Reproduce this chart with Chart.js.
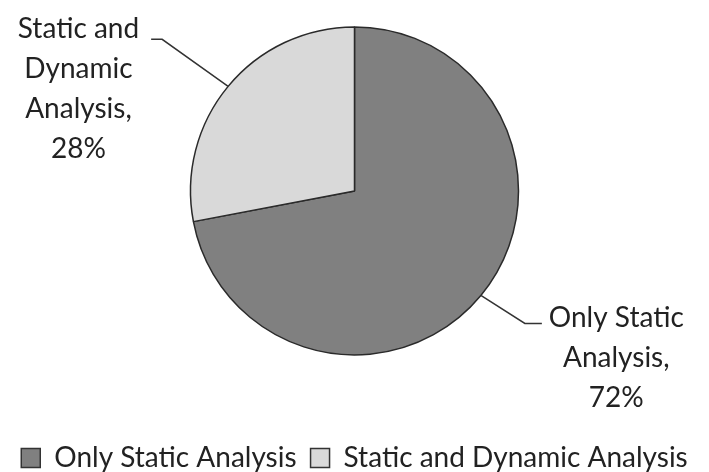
<!DOCTYPE html>
<html>
<head>
<meta charset="utf-8">
<script src="https://cdn.jsdelivr.net/npm/chart.js@4"></script>
<style>
  html, body { margin: 0; padding: 0; background: #fff; }
  #wrap { width: 709px; height: 472px; }
</style>
</head>
<body>
<div id="wrap"><canvas id="pie_chart"></canvas></div>
<script>
var labels = ['Only Static Analysis', 'Static and Dynamic Analysis'];
var shares = [72, 28];
var sliceLabels = [['Only Static', 'Analysis,', '72%'], ['Static and', 'Dynamic', 'Analysis,', '28%']];
var colors = ['#808080', '#d9d9d9'];

// leader line elbows, relative to slice edge point
var elbows = [{dx: 44, dy: 28, run: 17, gap: 7, lift: 5}, {dx: -66, dy: -47, run: -11, gap: 12, lift: 10}];

var labelPlugin = {
    id: 'sliceLabels',
    afterDatasetsDraw(chart) {
        var ctx = chart.ctx;
        var meta = chart.getDatasetMeta(0);
        ctx.save();
        ctx.font = '28px Lato';
        ctx.fillStyle = '#222';
        ctx.strokeStyle = '#333';
        ctx.lineWidth = 1.5;
        ctx.textAlign = 'center';
        ctx.textBaseline = 'middle';
        meta.data.forEach(function (arc, i) {
            var p = arc.getProps(['x', 'y', 'startAngle', 'endAngle', 'outerRadius'], true);
            var mid = (p.startAngle + p.endAngle) / 2;
            var ex = p.x + Math.cos(mid) * p.outerRadius;
            var ey = p.y + Math.sin(mid) * p.outerRadius;
            var e = elbows[i];
            var bx = ex + e.dx, by = ey + e.dy;
            var tx = bx + e.run;
            ctx.beginPath();
            ctx.moveTo(ex, ey);
            ctx.lineTo(bx, by);
            ctx.lineTo(tx, by);
            ctx.stroke();
            var lines = sliceLabels[i];
            var w = Math.max.apply(null, lines.map(function (l) { return ctx.measureText(l).width; }));
            var cx = e.run > 0 ? tx + e.gap + w / 2 : tx - e.gap - w / 2;
            lines.forEach(function (l, j) {
                ctx.fillText(l, cx, by - e.lift + j * 40);
            });
        });
        ctx.restore();
    }
};

var pie_chart = new Chart(document.getElementById('pie_chart'), {
    type: 'pie',
    data: {
        labels: labels,
        datasets: [
            {
                data: shares,
                backgroundColor: colors,
                borderColor: '#2a2a2a',
                borderWidth: 1.5,
                radius: 164,
                clip: false
            }
        ]
    },
    options: {
        responsive: true,
        maintainAspectRatio: false,
        animation: false,
        layout: {
            padding: {top: 0, bottom: -10}
        },
        plugins: {
            legend: {
                position: 'bottom',
                // empty title only used as a spacer between pie and legend
                title: {display: true, text: '', font: {size: 1}, padding: {top: 0, bottom: 47}},
                labels: {
                    font: {family: 'Lato', size: 28},
                    color: '#222',
                    boxWidth: 19,
                    boxHeight: 19,
                    padding: 14,
                    generateLabels: function (chart) {
                        return labels.map(function (l, i) {
                            return {text: l, fillStyle: colors[i], strokeStyle: '#333', lineWidth: 1.5, fontColor: '#222', index: i};
                        });
                    }
                }
            },
            tooltip: {enabled: false}
        }
    },
    plugins: [labelPlugin]
})
</script>
</body>
</html>
